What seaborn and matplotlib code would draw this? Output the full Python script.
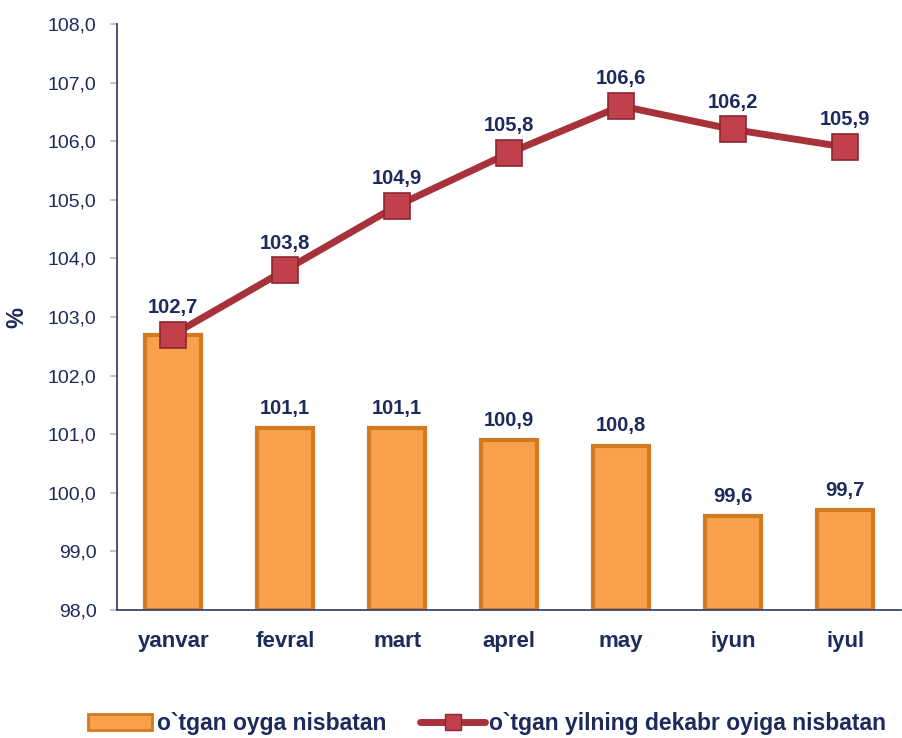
import matplotlib
matplotlib.use("Agg")
import matplotlib.pyplot as plt
import seaborn as sns
import pandas as pd
import numpy as np
from matplotlib.patches import Patch
from matplotlib.lines import Line2D

months = ["yanvar", "fevral", "mart", "aprel", "may", "iyun", "iyul"]
monthly = [102.7, 101.1, 101.1, 100.9, 100.8, 99.6, 99.7]
since_dec = [102.7, 103.8, 104.9, 105.8, 106.6, 106.2, 105.9]
yticks = [98.0, 99.0, 100.0, 101.0, 102.0, 103.0, 104.0, 105.0, 106.0, 107.0, 108.0]
legend_labels = ["o`tgan oyga nisbatan", "o`tgan yilning dekabr oyiga nisbatan"]

sns.set_theme(style="white")
plt.rcParams['font.family'] = ['Liberation Sans', 'DejaVu Sans']

navy = "#1c2a5c"
bar_c = "#f7a24b"
bar_edge = "#d17a22"
line_c = "#a8323c"

df = pd.DataFrame({"month": months, "monthly": monthly, "since_dec": since_dec})

fig = plt.figure(figsize=(9.02, 7.38), dpi=100)
ax = fig.add_axes([0.13, 0.1734, 0.869, 0.7941])

base = 98.0
sns.barplot(data=df, x="month", y=np.array(monthly) - base, bottom=base, ax=ax,
            color=bar_c, width=0.5, edgecolor=bar_edge, linewidth=3, saturation=1)
sns.lineplot(x=np.arange(len(months)), y=since_dec, ax=ax, color=line_c, linewidth=5,
             marker="s", markersize=19, markerfacecolor="#c0414b",
             markeredgecolor="#8e2630", markeredgewidth=1.2, zorder=5)

for i, v in enumerate(monthly):
    if abs(v - since_dec[i]) < 0.05:
        continue  # label coincides with the line label, shown once as in the reference
    ax.text(i, v + 0.18, f"{v:.1f}".replace(".", ","), ha="center", va="bottom",
            fontsize=14.5, fontweight="bold", color=navy)
for i, v in enumerate(since_dec):
    ax.text(i, v + 0.3, f"{v:.1f}".replace(".", ","), ha="center", va="bottom",
            fontsize=14.5, fontweight="bold", color=navy, zorder=6)

ax.set_ylim(98.0, 108.0)
ax.set_xlim(-0.5, 6.5)
ax.set_yticks(yticks)
ax.set_yticklabels([f"{t:.1f}".replace(".", ",") for t in yticks], fontsize=14, color=navy)
ax.set_xticks(range(len(months)))
ax.set_xticklabels(months, fontsize=16, fontweight="bold", color=navy)
ax.set_xlabel("")
ax.set_ylabel("%", fontsize=17, fontweight="bold", color=navy, labelpad=14)
ax.tick_params(axis="y", length=5, color="#bbbbbb", pad=10, left=True)
ax.tick_params(axis="x", length=0, pad=15)
for s in ["top", "right"]:
    ax.spines[s].set_visible(False)
ax.spines["left"].set_color("#3a4470")
ax.spines["bottom"].set_color("#3a4470")
ax.spines["left"].set_linewidth(1.3)
ax.spines["bottom"].set_linewidth(1.3)

handles = [Patch(facecolor=bar_c, edgecolor=bar_edge, linewidth=2),
           Line2D([0], [0], color=line_c, linewidth=5, marker="s", markersize=11,
                  markerfacecolor="#c0414b", markeredgecolor="#8e2630")]
fig.legend(handles, legend_labels, loc="center", bbox_to_anchor=(0.54, 0.02), ncol=2,
           frameon=False, prop={"size": 16.5, "weight": "bold"}, labelcolor=navy,
           handlelength=2.8, handletextpad=0.2, columnspacing=1.5)

fig.savefig("out.png", dpi=100)
